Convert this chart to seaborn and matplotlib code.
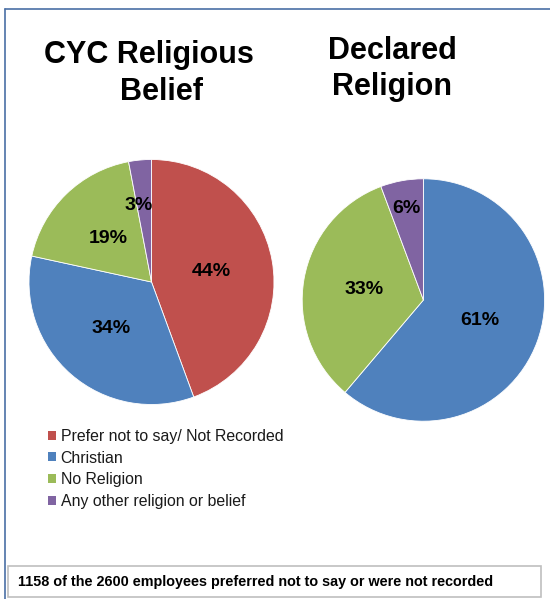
import numpy as np
import seaborn as sns
import matplotlib.pyplot as plt
from matplotlib.patches import Patch, Rectangle
from matplotlib.lines import Line2D

# data
categories = ["Prefer not to say/ Not Recorded", "Christian", "No Religion",
              "Any other religion or belief"]
cyc_values = [44.4, 34.0, 18.6, 3.0]
declared_values = [0.0, 61.2, 33.1, 5.7]
colours = ["#C0504D", "#4F81BD", "#9BBB59", "#8064A2"]
footer_note = "1158 of the 2600 employees preferred not to say or were not recorded"

sns.set_theme(style="white")
plt.rcParams['font.family'] = ['Liberation Sans', 'DejaVu Sans']

W, H = 550, 599
fig = plt.figure(figsize=(W / 100, H / 100), dpi=100)


def px_axes(cx, cy, r):
    # axes box in pixels -> figure fraction
    return fig.add_axes([(cx - r) / W, (H - cy - r) / H, 2 * r / W, 2 * r / H])


def draw_pie(ax, values, dists, nudge=None):
    pal = sns.color_palette(colours)
    keep = [i for i, v in enumerate(values) if v > 0]
    wedges, _ = ax.pie([values[i] for i in keep], colors=[pal[i] for i in keep],
                       startangle=90, counterclock=False, radius=1,
                       wedgeprops=dict(edgecolor="white", linewidth=0.6))
    for k, (w, i, d) in enumerate(zip(wedges, keep, dists)):
        mid = np.deg2rad((w.theta1 + w.theta2) / 2)
        dx, dy = (nudge or {}).get(k, (0, 0))
        ax.text(d * np.cos(mid) + dx, d * np.sin(mid) + dy, f"{values[i]:.0f}%",
                ha="center", va="center", fontsize=14, fontweight="bold",
                color="black")
    ax.set_xlim(-1, 1)
    ax.set_ylim(-1, 1)
    ax.set_aspect("equal")
    ax.axis("off")
    return wedges


ax1 = px_axes(151.5, 282, 122.5)
draw_pie(ax1, cyc_values, [0.5, 0.5, 0.5, 0.65], nudge={3: (-0.04, -0.02)})

ax2 = px_axes(423.4, 300, 121.2)
draw_pie(ax2, declared_values, [0.5, 0.5, 0.77])

# titles
tkw = dict(ha="center", va="baseline", fontsize=22, fontweight="bold", color="black")
fig.text(149 / W, 1 - 63 / H, "CYC Religious", **tkw)
fig.text(162 / W, 1 - 100 / H, "Belief", **tkw)
fig.text(392 / W, 1 - 59 / H, "Declared", **tkw)
fig.text(392 / W, 1 - 95 / H, "Religion", **tkw)

# legend
handles = [Patch(facecolor=c, edgecolor="none") for c in colours]
fig.legend(handles, categories, loc="upper left",
           bbox_to_anchor=(40 / W, 1 - 421 / H), frameon=False,
           fontsize=11.4, handlelength=0.5, handleheight=0.5,
           handletextpad=0.3, labelspacing=0.42, borderpad=0,
           labelcolor="#1a1a1a")

# outer frame lines (top and left)
fig.add_artist(Line2D([5 / W, 1], [1 - 9 / H, 1 - 9 / H], color="#4A6FA5",
                      linewidth=1.2, transform=fig.transFigure))
fig.add_artist(Line2D([5 / W, 5 / W], [0, 1 - 9 / H], color="#4A6FA5",
                      linewidth=1.2, transform=fig.transFigure))

# footer box
fig.add_artist(Rectangle((8 / W, 1 - 597 / H), 533 / W, 31 / H,
                         facecolor="white", edgecolor="#BFBFBF", linewidth=1.2,
                         transform=fig.transFigure))
fig.text(18 / W, 1 - 582 / H, footer_note, ha="left", va="center",
         fontsize=10.35, fontweight="bold", color="black")

fig.savefig("out.png", dpi=100)
